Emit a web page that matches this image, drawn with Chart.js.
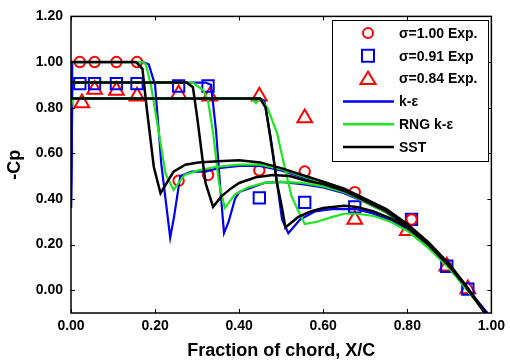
<!DOCTYPE html>
<html>
<head>
<meta charset="utf-8">
<script src="https://cdn.jsdelivr.net/npm/chart.js@4.4.0/dist/chart.umd.min.js"></script>
<style>
    body { margin: 0; background: #fff; }
    #grafico { display: block; }
</style>
</head>
<body>
<canvas id="grafico" width="510" height="364"></canvas>
<script>
// ticks
var xTicks = [0, 0.2, 0.4, 0.6, 0.8, 1.0];
var yTicks = [0, 0.2, 0.4, 0.6, 0.8, 1.0, 1.2];

// experimental points
var expX = [0.021, 0.056, 0.108, 0.157, 0.256, 0.326, 0.448, 0.556, 0.675, 0.81, 0.894, 0.944];
var exp100 = [1.00, 1.00, 1.00, 1.00, 0.48, 0.505, 0.525, 0.52, 0.43, 0.31, null, null];
var exp091 = [0.905, 0.905, 0.905, 0.905, 0.895, 0.895, 0.405, 0.385, 0.365, 0.31, 0.105, 0.005];
var expX084 = [0.026, 0.056, 0.108, 0.157, 0.256, 0.33, 0.448, 0.556, 0.675, 0.80, 0.894, 0.944];
var exp084 = [0.82, 0.88, 0.875, 0.85, 0.86, 0.85, 0.85, 0.755, 0.31, 0.26, 0.105, 0.005];

// sigma = 1.00
var keX100 = [0, 0.003, 0.17, 0.185, 0.20, 0.215, 0.236, 0.245, 0.26, 0.287, 0.32, 0.35, 0.40, 0.45, 0.50, 0.55, 0.60, 0.65, 0.70, 0.75, 0.80, 0.85, 0.90, 0.94, 0.99];
var keY100 = [0.36, 1.00, 1.00, 0.99, 0.90, 0.55, 0.23, 0.32, 0.50, 0.52, 0.52, 0.535, 0.545, 0.545, 0.525, 0.495, 0.465, 0.435, 0.39, 0.345, 0.28, 0.20, 0.105, 0.015, -0.1];
var rngX100 = [0, 0.17, 0.178, 0.19, 0.209, 0.225, 0.244, 0.27, 0.303, 0.343, 0.40, 0.45, 0.50, 0.55, 0.60, 0.65, 0.70, 0.75, 0.80, 0.85, 0.90, 0.94, 0.985];
var rngY100 = [1.00, 1.00, 0.99, 0.90, 0.69, 0.51, 0.44, 0.505, 0.525, 0.54, 0.55, 0.55, 0.53, 0.50, 0.47, 0.44, 0.395, 0.35, 0.285, 0.205, 0.11, 0.02, -0.1];
var sstX100 = [0, 0.155, 0.17, 0.18, 0.197, 0.213, 0.244, 0.272, 0.303, 0.35, 0.40, 0.45, 0.50, 0.55, 0.60, 0.65, 0.70, 0.75, 0.80, 0.85, 0.90, 0.94, 0.985];
var sstY100 = [1.00, 1.00, 0.97, 0.80, 0.54, 0.425, 0.52, 0.55, 0.56, 0.565, 0.57, 0.56, 0.535, 0.505, 0.475, 0.445, 0.40, 0.355, 0.29, 0.21, 0.115, 0.02, -0.1];

// sigma = 0.91
var keX091 = [0, 0.003, 0.32, 0.333, 0.345, 0.355, 0.364, 0.375, 0.39, 0.40, 0.43, 0.46, 0.50, 0.55, 0.60, 0.65, 0.70, 0.75, 0.80, 0.85, 0.90, 0.94, 0.99];
var keY091 = [0.36, 0.91, 0.91, 0.90, 0.70, 0.45, 0.25, 0.30, 0.40, 0.43, 0.45, 0.47, 0.475, 0.465, 0.45, 0.425, 0.385, 0.34, 0.275, 0.195, 0.10, 0.01, -0.1];
var rngX091 = [0, 0.29, 0.315, 0.326, 0.338, 0.352, 0.366, 0.39, 0.42, 0.46, 0.50, 0.55, 0.60, 0.65, 0.70, 0.75, 0.80, 0.85, 0.90, 0.94, 0.985];
var rngY091 = [0.91, 0.91, 0.875, 0.83, 0.69, 0.47, 0.36, 0.42, 0.45, 0.47, 0.475, 0.47, 0.455, 0.43, 0.385, 0.34, 0.275, 0.195, 0.10, 0.01, -0.1];
var sstX091 = [0, 0.275, 0.29, 0.30, 0.32, 0.338, 0.357, 0.38, 0.40, 0.44, 0.48, 0.52, 0.56, 0.60, 0.65, 0.70, 0.75, 0.80, 0.85, 0.90, 0.94, 0.985];
var sstY091 = [0.91, 0.91, 0.89, 0.76, 0.47, 0.365, 0.41, 0.445, 0.47, 0.495, 0.505, 0.50, 0.48, 0.465, 0.435, 0.39, 0.345, 0.28, 0.20, 0.105, 0.015, -0.1];

// sigma = 0.84
var keX084 = [0, 0.003, 0.45, 0.46, 0.475, 0.486, 0.502, 0.517, 0.545, 0.58, 0.62, 0.68, 0.72, 0.76, 0.80, 0.85, 0.90, 0.94, 0.99];
var keY084 = [0.36, 0.84, 0.84, 0.83, 0.67, 0.525, 0.31, 0.25, 0.31, 0.345, 0.355, 0.355, 0.335, 0.305, 0.265, 0.19, 0.10, 0.01, -0.1];
var rngX084 = [0, 0.003, 0.43, 0.44, 0.45, 0.467, 0.49, 0.51, 0.525, 0.54, 0.556, 0.585, 0.62, 0.65, 0.68, 0.72, 0.76, 0.80, 0.85, 0.90, 0.94, 0.985];
var rngY084 = [0.80, 0.84, 0.84, 0.82, 0.84, 0.80, 0.69, 0.525, 0.41, 0.35, 0.29, 0.30, 0.32, 0.335, 0.335, 0.325, 0.30, 0.26, 0.185, 0.095, 0.005, -0.1];
var sstX084 = [0, 0.45, 0.463, 0.48, 0.49, 0.503, 0.51, 0.54, 0.57, 0.60, 0.65, 0.68, 0.72, 0.76, 0.80, 0.85, 0.90, 0.94, 0.985];
var sstY084 = [0.84, 0.84, 0.80, 0.60, 0.47, 0.35, 0.275, 0.32, 0.345, 0.36, 0.37, 0.365, 0.345, 0.315, 0.275, 0.20, 0.105, 0.015, -0.1];

var corVermelho = '#ff0000';
var corAzul = '#0000f0';
var corVerde = '#1ee61e';
var corPreto = '#000000';
var fonte = '"Liberation Sans", Arial, sans-serif';

const pontos = (xs, ys) => xs.map((x, i) => ({ x: x, y: ys[i] }));

const linha = (xs, ys, cor, larg, ordem) => ({
    data: pontos(xs, ys),
    showLine: true,
    borderColor: cor,
    borderWidth: larg,
    pointRadius: 0,
    fill: false,
    order: ordem
});

const marcador = (xs, ys, cor, estilo, raio) => ({
    data: pontos(xs, ys),
    showLine: false,
    pointStyle: estilo,
    pointRadius: raio,
    pointBorderColor: cor,
    pointBackgroundColor: 'rgba(0,0,0,0)',
    pointBorderWidth: 2,
    order: 5
});

// legend entries
var legenda = [
    { texto: 'σ=1.00 Exp.', tipo: 'circle', cor: corVermelho },
    { texto: 'σ=0.91 Exp', tipo: 'rect', cor: corAzul },
    { texto: 'σ=0.84 Exp.', tipo: 'triangle', cor: corVermelho },
    { texto: 'k-ε', tipo: 'line', cor: corAzul },
    { texto: 'RNG k-ε', tipo: 'line', cor: corVerde },
    { texto: 'SST', tipo: 'line', cor: corPreto }
];

const molduraPlugin = {
    id: 'moldura',
    afterDraw: (chart) => {
        const ctx = chart.ctx;
        const a = chart.chartArea;
        const sx = chart.scales.x;
        const sy = chart.scales.y;
        ctx.save();
        ctx.strokeStyle = '#000';
        ctx.lineWidth = 1.5;
        ctx.strokeRect(a.left, a.top, a.right - a.left, a.bottom - a.top);
        ctx.lineWidth = 1;
        ctx.beginPath();
        xTicks.forEach((v) => {
            let px = Math.round(sx.getPixelForValue(v)) + 0.5;
            ctx.moveTo(px, a.bottom);
            ctx.lineTo(px, a.bottom - 4);
            ctx.moveTo(px, a.top);
            ctx.lineTo(px, a.top + 4);
        });
        yTicks.forEach((v) => {
            let py = Math.round(sy.getPixelForValue(v)) + 0.5;
            ctx.moveTo(a.left, py);
            ctx.lineTo(a.left + 4, py);
            ctx.moveTo(a.right, py);
            ctx.lineTo(a.right - 4, py);
        });
        ctx.stroke();

        // legend box
        const bx = 332, by = 20, bw = 156, bh = 141;
        ctx.fillStyle = '#fff';
        ctx.fillRect(bx, by, bw, bh);
        ctx.strokeStyle = '#000';
        ctx.lineWidth = 1;
        ctx.strokeRect(bx + 0.5, by + 0.5, bw, bh);
        ctx.font = 'bold 14px ' + fonte;
        ctx.textBaseline = 'middle';
        ctx.textAlign = 'left';
        legenda.forEach((item, i) => {
            let y = 33 + i * 22.8;
            ctx.strokeStyle = item.cor;
            ctx.lineWidth = 2;
            ctx.beginPath();
            if (item.tipo == 'circle') {
                ctx.arc(368, y, 5, 0, Math.PI * 2);
            } else if (item.tipo == 'rect') {
                ctx.rect(362, y - 6, 12, 12);
            } else if (item.tipo == 'triangle') {
                ctx.moveTo(368, y - 7);
                ctx.lineTo(375.5, y + 5.5);
                ctx.lineTo(360.5, y + 5.5);
                ctx.closePath();
            } else {
                ctx.lineWidth = 2.5;
                ctx.moveTo(343, y);
                ctx.lineTo(394, y);
            }
            ctx.stroke();
            ctx.fillStyle = '#000';
            ctx.fillText(item.texto, 399, y + 1);
        });
        ctx.restore();
    }
};

const ctx = document.getElementById('grafico').getContext('2d');
const chart = new Chart(ctx, {
    type: 'scatter',
    data: {
        datasets: [
            linha(keX100, keY100, corAzul, 2.2, 3),
            linha(keX091, keY091, corAzul, 2.2, 3),
            linha(keX084, keY084, corAzul, 2.2, 3),
            linha(rngX100, rngY100, corVerde, 2.2, 2),
            linha(rngX091, rngY091, corVerde, 2.2, 2),
            linha(rngX084, rngY084, corVerde, 2.2, 2),
            linha(sstX100, sstY100, corPreto, 2.5, 1),
            linha(sstX091, sstY091, corPreto, 2.5, 1),
            linha(sstX084, sstY084, corPreto, 2.5, 1),
            marcador(expX, exp100, corVermelho, 'circle', 5.2),
            marcador(expX, exp091, corAzul, 'rect', 8),
            marcador(expX084, exp084, corVermelho, 'triangle', 8.5)
        ]
    },
    options: {
        responsive: false,
        animation: false,
        devicePixelRatio: 1,
        layout: { padding: { top: 15, right: 13, left: 0, bottom: 0 } },
        plugins: {
            legend: { display: false },
            tooltip: { enabled: false }
        },
        scales: {
            x: {
                type: 'linear',
                min: 0,
                max: 1,
                afterBuildTicks: (s) => { s.ticks = xTicks.map(v => ({ value: v })); },
                afterFit: (s) => { s.height = 51; },
                grid: { display: false, drawTicks: false },
                border: { display: false },
                ticks: {
                    color: '#000',
                    padding: 5,
                    font: { family: fonte, size: 14, weight: 'bold' },
                    callback: (v) => v.toFixed(2)
                },
                title: {
                    display: true,
                    text: 'Fraction of chord, X/C',
                    color: '#000',
                    font: { family: fonte, size: 18, weight: 'bold' },
                    padding: { top: 0, bottom: 2 }
                }
            },
            y: {
                type: 'linear',
                min: -0.1,
                max: 1.2,
                afterBuildTicks: (s) => { s.ticks = yTicks.map(v => ({ value: v })); },
                afterFit: (s) => { s.width = 71; },
                grid: { display: false, drawTicks: false },
                border: { display: false },
                ticks: {
                    color: '#000',
                    padding: 8,
                    font: { family: fonte, size: 14, weight: 'bold' },
                    callback: (v) => v.toFixed(2)
                },
                title: {
                    display: true,
                    text: '-Cp',
                    color: '#000',
                    font: { family: fonte, size: 18, weight: 'bold' },
                    padding: { top: 4, bottom: 0 }
                }
            }
        }
    },
    plugins: [molduraPlugin]
});
</script>
</body>
</html>
